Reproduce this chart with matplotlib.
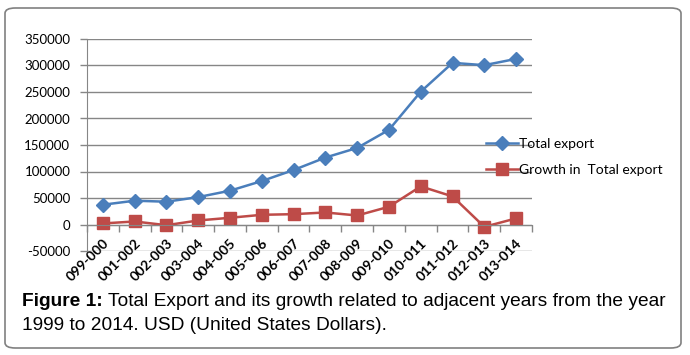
import numpy as np
import matplotlib
matplotlib.use('Agg')
import matplotlib.pyplot as plt
import matplotlib.transforms as mtransforms
from matplotlib.patches import FancyBboxPatch
from matplotlib.ticker import FixedLocator

periods = ['099-000', '001-002', '002-003', '003-004', '004-005', '005-006', '006-007',
           '007-008', '008-009', '009-010', '010-011', '011-012', '012-013', '013-014']
total_export = [37300, 44900, 43000, 51700, 63800, 82000, 102800,
                126300, 144500, 178600, 250600, 305000, 300600, 312500]
growth = [2000, 5700, -1300, 7600, 12700, 18300, 19500,
          22700, 17000, 33500, 71900, 53000, -4400, 11500]
y_ticks = [-50000, 0, 50000, 100000, 150000, 200000, 250000, 300000, 350000]

blue = '#4a7ebb'
red = '#be4b48'
grid_col = '#868686'

fig = plt.figure(figsize=(6.9, 3.55), dpi=100)
ax = fig.add_axes([87/690, 1 - 251/355, (532 - 87)/690, (251 - 39)/355])

x = np.arange(len(periods))
ax.plot(x, total_export, color=blue, lw=1.8, marker='D', ms=7, label='Total export')
ax.plot(x, growth, color=red, lw=1.8, marker='s', ms=9, label='Growth in  Total export')

ax.set_xlim(-0.5, len(periods) - 0.5)
ax.set_ylim(-50000, 350000)
ax.set_yticks(y_ticks)
ax.set_yticklabels([str(v) for v in y_ticks], fontfamily='Lato', fontsize=9.5)
ax.yaxis.grid(True, color=grid_col, lw=1)
ax.set_axisbelow(True)
ax.tick_params(axis='y', length=5, width=1, color=grid_col, pad=7)

for s in ['top', 'right']:
    ax.spines[s].set_visible(False)
ax.spines['left'].set_color(grid_col)
ax.spines['bottom'].set_color(grid_col)
ax.spines['bottom'].set_position(('data', 0))

# labels at category centres, tick marks between categories
ax.set_xticks(x)
ax.xaxis.set_minor_locator(FixedLocator(np.arange(-0.5, len(periods), 1)))
ax.tick_params(axis='x', which='major', length=0, pad=12)
ax.tick_params(axis='x', which='minor', length=5, width=1, color=grid_col, direction='out')
ax.set_xticklabels(periods, rotation=45, ha='right', va='center', rotation_mode='anchor',
                   fontfamily='Lato', fontweight='bold', fontsize=10)
offset = mtransforms.ScaledTranslation(4/100, 0, fig.dpi_scale_trans)
for lab in ax.get_xticklabels():
    lab.set_transform(lab.get_transform() + offset)

ax.legend(loc='center left', bbox_to_anchor=(486/690, 1 - 157/355),
          bbox_transform=fig.transFigure, frameon=False,
          prop={'family': 'Lato', 'size': 10}, handlelength=2.3,
          handletextpad=0.1, labelspacing=1.0, borderpad=0, borderaxespad=0)

# caption
cap1 = fig.text(22/690, 1 - 301/355, 'Figure 1:', fontfamily='Liberation Sans',
                fontweight='bold', fontsize=13.8, va='center')
ax.annotate(' Total Export and its growth related to adjacent years from the year',
            xy=(1, 0), xycoords=cap1, va='bottom', ha='left',
            fontfamily='Liberation Sans', fontsize=13.8, annotation_clip=False)
fig.text(22/690, 1 - 325/355, '1999 to 2014. USD (United States Dollars).',
         fontfamily='Liberation Sans', fontsize=13.8, va='center')

box = FancyBboxPatch((5/690, 1 - 348/355), (681 - 5)/690, (348 - 8)/355,
                     boxstyle='round,pad=0,rounding_size=0.015', transform=fig.transFigure,
                     facecolor='none', edgecolor='#808080', lw=1.2)
fig.patches.append(box)

fig.savefig('out.png', dpi=100)
